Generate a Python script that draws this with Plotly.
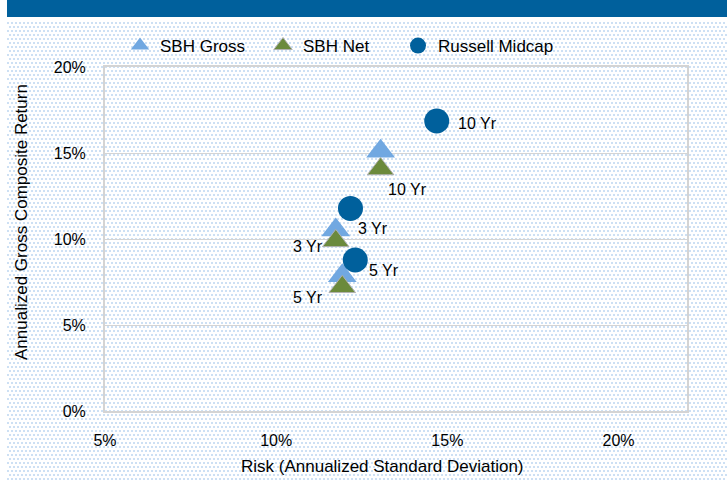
import base64
import plotly.graph_objects as go

# ---------------- data ----------------
periods = ["10 Yr", "3 Yr", "5 Yr"]
sbh_risk = [13.05, 11.74, 11.93]
sbh_gross = [15.10, 10.52, 7.86]
sbh_net = [14.07, 9.89, 7.22]
rm_risk = [14.69, 12.17, 12.31]
rm_return = [16.86, 11.78, 8.78]

x_ticks = [5, 10, 15, 20]
x_tick_labels = ["5%", "10%", "15%", "20%"]
y_ticks = [0, 5, 10, 15, 20]
y_tick_labels = ["0%", "5%", "10%", "15%", "20%"]

# ---------------- layout geometry (pixels) ----------------
W, H = 727, 482
PL, PR, PT, PB = 105, 687, 67, 411   # plot area in pixels
pw, ph = PR - PL, PB - PT


def px(xp):
    return (xp - PL) / pw


def py(yp):
    return (PB - yp) / ph


FONT = "Liberation Sans"
DARK = "#00609c"
GROSS = "#71a8e1"
NET = "#6b8a3c"

fig = go.Figure()
fig.add_trace(go.Scatter(
    x=sbh_risk, y=sbh_gross, mode="markers", name="SBH Gross", legend="legend",
    marker=dict(symbol="triangle-up", size=25, color=GROSS, line=dict(width=0)),
))
fig.add_trace(go.Scatter(
    x=sbh_risk, y=sbh_net, mode="markers", name="SBH Net", legend="legend2",
    marker=dict(symbol="triangle-up", size=23, color=NET,
                line=dict(width=1, color="#b0b0b0")),
))
fig.add_trace(go.Scatter(
    x=rm_risk, y=rm_return, mode="markers", name="Russell Midcap", legend="legend3",
    marker=dict(symbol="circle", size=25, color=DARK, line=dict(width=0)),
))

# data labels
rm_label_style = [(19, -2, "left"), (6, -20, "left"), (12, -11, "left")]
net_label_style = [(5, -20, "left"), (-11, -6, "right"), (-17, -11, "right")]
annotations = []
for i, p in enumerate(periods):
    dx, dy, anc = rm_label_style[i]
    annotations.append(dict(x=rm_risk[i], y=rm_return[i], text=p, showarrow=False,
                            xanchor=anc, yanchor="middle", xshift=dx, yshift=dy,
                            font=dict(family=FONT, size=16, color="#000")))
    dx, dy, anc = net_label_style[i]
    annotations.append(dict(x=sbh_risk[i], y=sbh_net[i], text=p, showarrow=False,
                            xanchor=anc, yanchor="middle", xshift=dx, yshift=dy,
                            font=dict(family=FONT, size=16, color="#000")))

# axis titles
annotations.append(dict(xref="paper", yref="paper", x=px(382), y=py(466),
                        text="Risk (Annualized Standard Deviation)", showarrow=False,
                        xanchor="center", yanchor="middle",
                        font=dict(family=FONT, size=17, color="#000")))
annotations.append(dict(xref="paper", yref="paper", x=px(21), y=py(222),
                        text="Annualized Gross Composite Return", showarrow=False,
                        textangle=-90, xanchor="center", yanchor="middle",
                        font=dict(family=FONT, size=17, color="#000")))

# dotted background pattern as an svg image
bw, bh = W - 7, H - 22
svg = (f'<svg xmlns="http://www.w3.org/2000/svg" width="{bw}" height="{bh}" '
       f'viewBox="0 0 {bw} {bh}" shape-rendering="crispEdges">'
       '<defs><pattern id="p" width="4" height="8" patternUnits="userSpaceOnUse">'
       '<rect x="0" y="0" width="2" height="2" fill="#cde0f4"/>'
       '<rect x="2" y="4" width="2" height="2" fill="#cde0f4"/>'
       '</pattern></defs>'
       f'<rect width="{bw}" height="{bh}" fill="#ffffff"/>'
       f'<rect width="{bw}" height="{bh}" fill="url(#p)"/></svg>')
src = "data:image/svg+xml;base64," + base64.b64encode(svg.encode()).decode()


def leg(xpix):
    return dict(orientation="h", x=px(xpix), y=py(46), xanchor="left", yanchor="middle",
                bgcolor="rgba(0,0,0,0)", borderwidth=0,
                font=dict(family=FONT, size=17, color="#000"), itemclick=False)


fig.update_layout(
    width=W, height=H,
    margin=dict(l=PL, r=W - PR, t=PT, b=H - PB, autoexpand=False),
    paper_bgcolor="#ffffff", plot_bgcolor="rgba(0,0,0,0)",
    font=dict(family=FONT, size=16, color="#000"),
    showlegend=True,
    legend=leg(120), legend2=leg(263), legend3=leg(398),
    xaxis=dict(range=[5, 22], tickvals=x_ticks, ticktext=x_tick_labels, showgrid=False,
               zeroline=False, showline=True, linecolor="#d4d4d4", linewidth=2,
               mirror=True, ticks="", ticklabelstandoff=14,
               tickfont=dict(family=FONT, size=16, color="#000")),
    yaxis=dict(range=[0, 20], tickvals=y_ticks, ticktext=y_tick_labels, showgrid=True,
               gridcolor="#d4d4d4", gridwidth=1, zeroline=False, showline=True,
               linecolor="#d4d4d4", linewidth=2, mirror=True, ticks="",
               ticklabelstandoff=14,
               tickfont=dict(family=FONT, size=16, color="#000")),
    annotations=annotations,
    shapes=[dict(type="rect", xref="paper", yref="paper",
                 x0=px(7), x1=px(W), y0=py(17), y1=py(0),
                 fillcolor=DARK, line=dict(width=0), layer="above")],
    images=[dict(source=src, xref="paper", yref="paper", x=px(7), y=py(22),
                 sizex=bw / pw, sizey=bh / ph, sizing="stretch",
                 xanchor="left", yanchor="top", layer="below")],
)

fig.write_html("out.html", config={"displayModeBar": False},
               post_script="document.body.style.margin='0';")
